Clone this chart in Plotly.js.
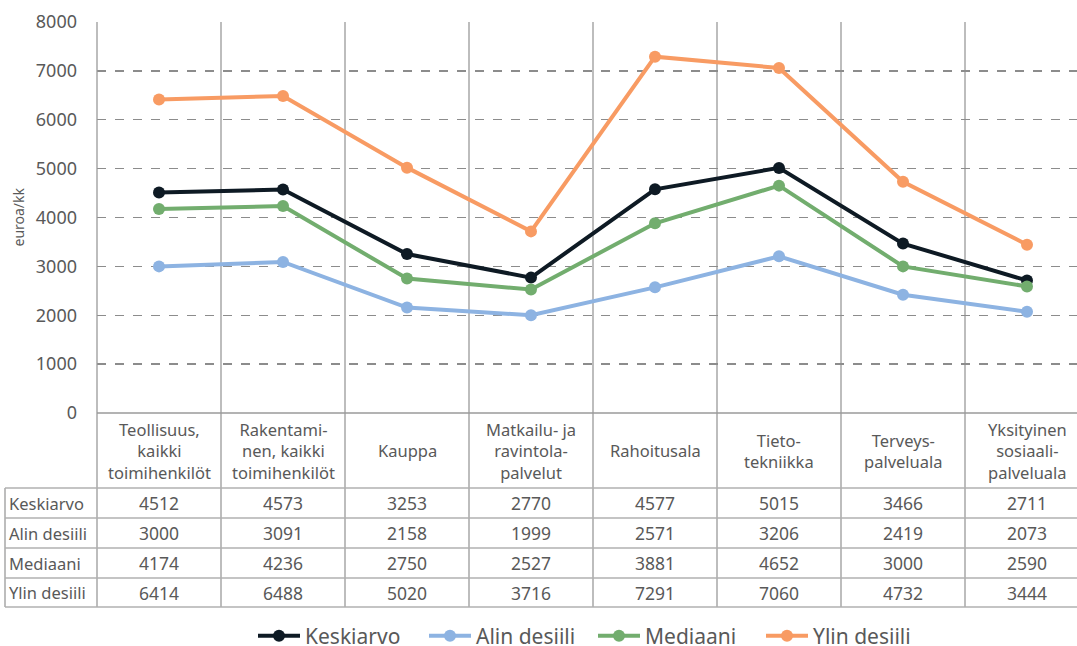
<!DOCTYPE html>
<html>
<head>
<meta charset="utf-8">
<script src="https://cdn.plot.ly/plotly-3.0.1.min.js"></script>
<style>html,body{margin:0;padding:0;background:#fff;}#chart{width:1077px;height:646px;}</style>
</head>
<body>
<div id="chart"></div>
<script>
const categories = [
  "Teollisuus,<br>kaikki<br>toimihenkilöt",
  "Rakentami-<br>nen, kaikki<br>toimihenkilöt",
  "Kauppa",
  "Matkailu- ja<br>ravintola-<br>palvelut",
  "Rahoitusala",
  "Tieto-<br>tekniikka",
  "Terveys-<br>palveluala",
  "Yksityinen<br>sosiaali-<br>palveluala"
];
const seriesNames = ["Keskiarvo", "Alin desiili", "Mediaani", "Ylin desiili"];
const keskiarvo = [4512, 4573, 3253, 2770, 4577, 5015, 3466, 2711];
const alinDesiili = [3000, 3091, 2158, 1999, 2571, 3206, 2419, 2073];
const mediaani = [4174, 4236, 2750, 2527, 3881, 4652, 3000, 2590];
const ylinDesiili = [6414, 6488, 5020, 3716, 7291, 7060, 4732, 3444];
const yTickVals = [0, 1000, 2000, 3000, 4000, 5000, 6000, 7000, 8000];
const yTitle = "euroa/kk";

const seriesValues = [keskiarvo, alinDesiili, mediaani, ylinDesiili];
const colors = ["#0e1a24", "#8db3e2", "#72ad6e", "#f89b63"];

const W = 1077, H = 646;
const L = 97, T = 22, B = 233;
const plotW = W - L, plotH = H - T - B;
const xMin = -0.5, xMax = -0.5 + plotW / 124;
const px2paperX = p => (p - L) / plotW;
const px2paperY = p => (H - B - p) / plotH;
const textColor = "#595959";
const fontFam = "'Noto Sans', 'Open Sans', sans-serif";

const legendIds = ["legend", "legend2", "legend3", "legend4"];
const legendLeftPx = [253, 424, 593, 761];

const traces = seriesNames.map((name, i) => ({
  type: "scatter",
  mode: "lines+markers",
  name: name,
  legend: legendIds[i],
  x: categories,
  y: seriesValues[i],
  line: {color: colors[i], width: 4},
  marker: {color: colors[i], size: 12, symbol: "circle"},
  cliponaxis: false
}));

const shapes = [];
const gridColor = "#9a9a9a";
const rowY = [488, 518, 548, 578, 607];
for (let k = 0; k < categories.length; k++) {
  const xp = (k + 0.5 - xMin) / (xMax - xMin);
  if (xp <= 1) {
    shapes.push({type: "line", xref: "paper", yref: "paper", x0: xp, x1: xp,
      y0: px2paperY(607), y1: 1, line: {color: gridColor, width: 1.3}, layer: "below"});
  }
}
shapes.push({type: "line", xref: "paper", yref: "paper", x0: 0, x1: 0,
  y0: px2paperY(607), y1: 1, line: {color: gridColor, width: 1.3}});
shapes.push({type: "line", xref: "paper", yref: "paper", x0: px2paperX(5), x1: px2paperX(5),
  y0: px2paperY(607), y1: px2paperY(488), line: {color: gridColor, width: 1.3}});
rowY.forEach(y => {
  shapes.push({type: "line", xref: "paper", yref: "paper", x0: px2paperX(5), x1: 1.02,
    y0: px2paperY(y), y1: px2paperY(y), line: {color: "#b0b0b0", width: 1.3}});
});
shapes.push({type: "line", xref: "paper", yref: "paper", x0: 0, x1: 1.02,
  y0: 0, y1: 0, line: {color: gridColor, width: 1.3}});

const annotations = [];
categories.forEach((c, k) => {
  annotations.push({xref: "x", yref: "paper", x: c, y: px2paperY(451),
    text: c, showarrow: false, xanchor: "center", yanchor: "middle",
    font: {family: fontFam, size: 16.5, color: textColor}, align: "center"});
});
seriesNames.forEach((name, i) => {
  const yc = (rowY[i] + rowY[i + 1]) / 2;
  annotations.push({xref: "paper", yref: "paper", x: px2paperX(7), y: px2paperY(yc),
    text: name, showarrow: false, xanchor: "left", yanchor: "middle",
    font: {family: fontFam, size: 16.5, color: textColor}});
  categories.forEach((c, k) => {
    annotations.push({xref: "x", yref: "paper", x: c, y: px2paperY(yc),
      text: String(seriesValues[i][k]), showarrow: false, xanchor: "center", yanchor: "middle",
      font: {family: fontFam, size: 17.5, color: textColor}});
  });
});
annotations.push({xref: "paper", yref: "paper", x: px2paperX(18), y: 0.5,
  text: yTitle, textangle: -90, showarrow: false, xanchor: "center", yanchor: "middle",
  font: {family: fontFam, size: 14, color: textColor}});

const layout = {
  width: W, height: H,
  margin: {l: L, r: 0, t: T, b: B, pad: 0, autoexpand: false},
  paper_bgcolor: "#ffffff", plot_bgcolor: "#ffffff",
  showlegend: true,
  xaxis: {type: "category", range: [xMin, xMax], showticklabels: false, showgrid: false,
    zeroline: false, showline: false, fixedrange: true},
  yaxis: {range: [0, 8000], tickvals: yTickVals, ticktext: yTickVals.map(String),
    showgrid: true, gridcolor: "#8c8c8c", griddash: "dash", gridwidth: 1.3,
    zeroline: false, showline: false, ticks: "", ticklabelstandoff: 19,
    tickfont: {family: fontFam, size: 18, color: textColor}},
  shapes: shapes,
  annotations: annotations,
  font: {family: fontFam, color: textColor}
};
legendIds.forEach((id, i) => {
  layout[id] = {orientation: "h", x: px2paperX(legendLeftPx[i]), xanchor: "left",
    y: px2paperY(636), yanchor: "middle", bgcolor: "rgba(0,0,0,0)",
    font: {family: fontFam, size: 21, color: textColor}, itemwidth: 42};
});

Plotly.newPlot("chart", traces, layout, {displayModeBar: false, staticPlot: true});
</script>
</body>
</html>
